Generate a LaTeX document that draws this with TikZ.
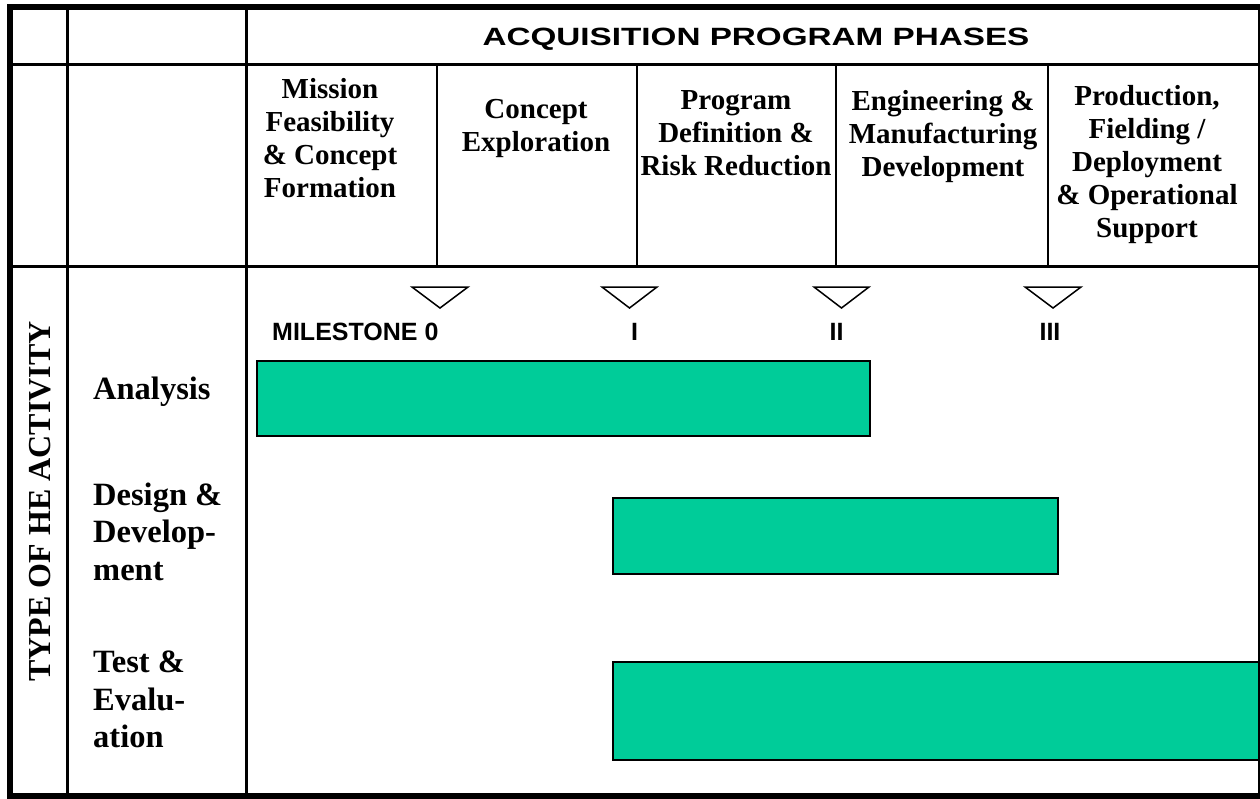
\documentclass[tikz,border=0pt]{standalone}
\usepackage{fontspec}
\setmainfont{Liberation Serif}
\newfontfamily\arialfont{Liberation Sans}
\usepackage{graphicx}
\definecolor{barfill}{HTML}{00CC99}
\tikzset{
  outerline/.style={line width=6pt},
  gridline/.style={line width=3.5pt},
  dividerline/.style={line width=2pt},
  barbox/.style={draw=black, line width=1.5pt, fill=barfill},
  milestonetri/.style={draw=black, line width=1.5pt, line join=miter},
  phasetext/.style={anchor=north, inner sep=0pt, align=center, font=\bfseries\fontsize{29}{33}\selectfont},
  activitytext/.style={anchor=north west, inner sep=0pt, align=left, font=\bfseries\fontsize{32.5}{37.5}\selectfont},
  mslabel/.style={anchor=base, inner sep=0pt, font=\arialfont\bfseries\fontsize{25}{30}\selectfont},
}
\begin{document}
\begin{tikzpicture}[x=1pt,y=-1pt]
\useasboundingbox (0,0) rectangle (1260,798);
\fill[white] (0,0) rectangle (1260,798);

% bars
\draw[barbox] (257,361) rectangle (870,436);
\draw[barbox] (613,498) rectangle (1058,574);
\draw[barbox] (613,662) rectangle (1263,760);

% milestone triangles
\draw[milestonetri] (412,287) -- (468,287) -- (440,308) -- cycle;
\draw[milestonetri] (602,287) -- (657,287) -- (629.5,308) -- cycle;
\draw[milestonetri] (814,287) -- (869,287) -- (841.5,308) -- cycle;
\draw[milestonetri] (1025,287) -- (1081,287) -- (1053,308) -- cycle;

% milestone labels
\node[mslabel, anchor=base west] (ms0) at (272,340) {MILESTONE 0};
\node[mslabel] (ms1) at (634.5,340) {I};
\node[mslabel] (ms2) at (836.5,340) {II};
\node[mslabel] (ms3) at (1050,340) {III};

% header
\node[anchor=base, inner sep=0pt, font=\arialfont\bfseries\fontsize{25}{30}\selectfont] (title) at (756,45) {\scalebox{1.33}[1]{ACQUISITION PROGRAM PHASES}};

% phases
\node[phasetext] (ph1) at (330,78) {Mission\\Feasibility\\\& Concept\\Formation};
\node[phasetext] (ph2) at (536,99) {Concept\\Exploration};
\node[phasetext] (ph3) at (736,90) {Program\\Definition \&\\Risk Reduction};
\node[phasetext] (ph4) at (943,90) {Engineering \&\\Manufacturing\\Development};
\node[phasetext] (ph5) at (1147,85) {Production,\\Fielding /\\Deployment\\\& Operational\\Support};

% activities
\node[activitytext, anchor=base west] (act1) at (93,399) {Analysis};
\node[activitytext] (act2) at (93,482.5) {Design \&\\Develop-\\ment};
\node[activitytext] (act3) at (93,651) {Test \&\\Evalu-\\ation};

\node[anchor=base, inner sep=0pt, rotate=90, font=\bfseries\fontsize{32}{36}\selectfont] (vlabel) at (50,501.5) {TYPE OF HE ACTIVITY};

% grid
\draw[dividerline] (436.5,64.5) -- (436.5,266.5);
\draw[dividerline] (637,64.5) -- (637,266.5);
\draw[dividerline] (836,64.5) -- (836,266.5);
\draw[dividerline] (1048,64.5) -- (1048,266.5);
\draw[gridline] (10,64.5) -- (1261,64.5);
\draw[gridline] (10,266.5) -- (1261,266.5);
\draw[gridline] (67.5,7) -- (67.5,796);
\draw[gridline] (246.5,7) -- (246.5,796);
\draw[outerline] (10,7) rectangle (1261,796);
\end{tikzpicture}
\end{document}
